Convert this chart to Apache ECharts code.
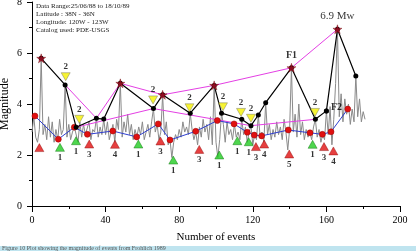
<!DOCTYPE html>
<html><head><meta charset="utf-8">
<script src="https://cdn.jsdelivr.net/npm/echarts@6/dist/echarts.min.js"></script>
<style>html,body{margin:0;padding:0;background:#fff}#c{width:416px;height:251px}</style>
</head><body><div id="c"></div>
<script>
// magnitude of each event (x = event number)
const grayMag = [2.9,3.5,2.7,2.5,3.0,5.79,2.8,3.2,2.6,3.5,2.7,3.3,2.5,3.0,2.6,3.4,2.8,3.0,4.75,2.7,
3.2,2.6,2.9,3.1,3.09,2.5,3.3,2.7,3.2,2.8,2.8,3.3,2.6,3.0,2.9,3.44,2.7,3.1,2.8,3.41,
2.8,3.3,2.6,2.9,3.2,2.5,3.4,3.0,4.81,2.7,3.3,2.9,3.6,2.8,3.2,2.6,3.0,2.7,3.1,2.8,
3.3,2.6,2.9,3.2,2.7,3.3,3.82,2.9,3.2,2.6,2.9,4.36,2.8,3.3,2.4,2.6,1.9,2.5,2.8,2.6,
3.0,2.7,3.3,2.9,3.1,2.8,3.64,3.0,2.6,2.9,2.4,3.1,2.7,3.4,2.9,3.2,2.6,3.5,2.4,4.73,
2.5,1.9,2.6,3.64,3.2,2.5,3.3,2.8,3.0,2.6,3.2,2.7,2.9,2.6,3.40,2.8,3.1,2.5,2.9,3.15,
2.4,2.8,2.6,3.57,2.7,2.9,2.5,4.05,2.8,3.2,2.6,3.0,2.7,3.3,2.8,3.1,2.6,3.4,2.9,2.2,
3.0,5.42,2.9,3.6,2.7,4.0,2.8,3.3,2.6,3.0,2.7,2.9,2.6,3.1,3.40,2.7,3.0,2.5,2.8,2.6,
3.73,2.8,3.9,2.4,3.4,4.8,6.93,3.5,4.4,3.3,4.2,3.6,4.0,3.2,3.8,3.3,5.10,3.5,4.2,3.3,
3.7,3.4];

// peaks (black line)
const peakEvents = [5,18,24,35,39,48,66,71,86,99,103,114,119,123,127,141,154,160,166,176];
const peakMag    = [5.79,4.75,3.09,3.44,3.41,4.81,3.82,4.36,3.64,4.73,3.64,3.40,3.15,3.57,4.05,5.42,3.40,3.73,6.93,5.10];

// stars
const starEvents = [5,48,71,99,141,166];
const starMag    = [5.79,4.81,4.36,4.73,5.42,6.93];
const starText   = ['','','','','F1','6.9 Mw'];

// magenta lines
const upperEvents = [18,35,48,71,99,141,166];
const upperMag    = [4.75,3.44,4.81,4.36,4.73,5.42,6.93];
const lowerEvents = [24,66,119,154];
const lowerMag    = [3.09,3.82,3.15,3.40];

// red circles (blue line)
const avgEvents = [1.6,14.3,23,30.1,43.9,56.9,68.6,75,89,100.7,109.8,117,120.8,124.8,139.3,151.1,157.8,162.5,171.6];
const avgMag    = [3.53,2.62,3.09,2.81,2.94,2.71,3.22,2.59,2.93,3.35,3.22,2.89,2.78,2.75,2.98,2.87,2.81,2.91,3.80];

// yellow inverted triangles (class 2)
const yelEvents = [18.3,25.7,65.8,85.6,103.8,113.6,119,153.8];
const yelMag    = [5.07,3.40,4.16,3.85,3.89,3.67,3.44,3.67];
const yelText   = ['2','2','2','2','2','2','2','2'];

// red triangles
const redEvents = [4,31.1,45.1,69.8,90.9,121.7,126.2,139.8,158.7,163.8];
const redMag    = [2.29,2.43,2.42,2.55,2.22,2.33,2.43,2.04,2.33,2.16];
const redText   = ['','3','4','3','3','3','4','5','3','4'];

// green triangles
const grnEvents = [15.2,23.9,57.8,76.8,101.8,111.6,117.8,152.5];
const grnMag    = [2.30,2.56,2.43,1.80,2.00,2.56,2.52,2.42];
const grnText   = ['1','1','1','1','1','1','1','1'];

const infoLines = ['Data Range:25/06/88 to 18/10/89','Latitude : 38N - 36N','Longitude: 120W - 123W','Catalog used: PDE-USGS'];

const zip = (a,b)=>a.map((v,i)=>[v,b[i]]);
const FONT = '"Liberation Serif", "Times New Roman", serif';
const STAR = 'path://M50,0 L61,35 L98,35 L68,57 L79,91 L50,70 L21,91 L32,57 L2,35 L39,35 Z';

const chart = echarts.init(document.getElementById('c'), null, {renderer:'canvas'});
const option = {
  animation:false,
  backgroundColor:'#fff',
  grid:{left:32, right:16, top:2, bottom:45, containLabel:false, outerBoundsMode:'none'},
  xAxis:{type:'value', min:0, max:200, interval:40,
    name:'Number of events', nameLocation:'middle', nameGap:26, nameMoveOverlap:false,
    nameTextStyle:{fontFamily:FONT, fontSize:11, color:'#000'},
    axisLine:{lineStyle:{color:'#000', width:1}},
    axisTick:{length:6, lineStyle:{color:'#000'}},
    minorTick:{show:true, splitNumber:2, length:3, lineStyle:{color:'#000'}},
    splitLine:{show:false},
    axisLabel:{fontFamily:FONT, fontSize:10, color:'#000', margin:9}},
  yAxis:{type:'value', min:0, max:8, interval:2,
    name:'Magnitude', nameLocation:'middle', nameGap:21, nameMoveOverlap:false,
    nameTextStyle:{fontFamily:FONT, fontSize:12, color:'#000'},
    axisLine:{show:true, lineStyle:{color:'#000', width:1}},
    axisTick:{show:true, length:5, lineStyle:{color:'#000'}},
    minorTick:{show:true, splitNumber:2, length:3, lineStyle:{color:'#000'}},
    splitLine:{show:false},
    axisLabel:{fontFamily:FONT, fontSize:10, color:'#000', margin:10}},
  graphic:[
    ...infoLines.map((t,i)=>({type:'text', left:36, top:3+i*8,
      style:{text:t, font:'7px '+FONT, fill:'#222'}})),
    {type:'rect', left:0, top:246, shape:{width:416, height:5}, style:{fill:'#bfe4ef'}},
    {type:'text', left:2, top:245, style:{text:'Figure 10 Plot showing the magnitude of events from Frohlich 1989', font:'6px '+FONT, fill:'#555'}}
  ],
  series:[
    {type:'line', data:grayMag.map((v,i)=>[i,v]), symbol:'none',
      lineStyle:{color:'#8a8a8a', width:1}, z:1},
    {type:'line', data:zip(avgEvents,avgMag), symbol:'circle', symbolSize:6,
      itemStyle:{color:'#e01010', borderColor:'#900', borderWidth:0.5},
      lineStyle:{color:'#2f3fd0', width:1}, z:3},
    {type:'line', data:zip(upperEvents,upperMag), symbol:'none',
      lineStyle:{color:'#e43fe4', width:1}, z:2},
    {type:'line', data:zip(lowerEvents,lowerMag), symbol:'none',
      lineStyle:{color:'#e43fe4', width:1}, z:2},
    {type:'line', data:zip(peakEvents,peakMag), symbol:'circle', symbolSize:5,
      itemStyle:{color:'#000'}, lineStyle:{color:'#000', width:1.2}, z:4},
    {type:'scatter', data:starEvents.map((e,i)=>({value:[e,starMag[i]],
        label:{show:!!starText[i], formatter:starText[i], position:'top', distance:3,
          fontFamily:FONT, fontSize:starText[i]==='F1'?10:11,
          fontWeight:starText[i]==='F1'?'bold':'normal', color:'#000'}})),
      symbol:STAR, symbolSize:9, itemStyle:{color:'#b0102a', borderColor:'#600', borderWidth:0.5}, z:6},
    {type:'scatter', data:[{value:[160,3.73], label:{show:true, formatter:'F2', position:'right', distance:2,
        fontFamily:FONT, fontSize:10, fontWeight:'bold', color:'#000', offset:[0,-3]}}],
      symbol:'circle', symbolSize:5, itemStyle:{color:'#000'}, z:5},
    {type:'scatter', data:yelEvents.map((e,i)=>({value:[e,yelMag[i]], name:yelText[i]})),
      symbol:'triangle', symbolRotate:180, symbolSize:[9,8],
      itemStyle:{color:'#f5f000', borderColor:'#776', borderWidth:0.6},
      label:{show:true, formatter:'{b}', position:'top', distance:1, fontFamily:FONT, fontSize:9, fontWeight:'bold', color:'#000'}, z:5},
    {type:'scatter', data:redEvents.map((e,i)=>({value:[e,redMag[i]], name:redText[i]})),
      symbol:'triangle', symbolSize:[9,8],
      itemStyle:{color:'#e01010', borderColor:'#800', borderWidth:0.5},
      label:{show:true, formatter:'{b}', position:'bottom', distance:2, fontFamily:FONT, fontSize:9, fontWeight:'bold', color:'#000'}, z:5},
    {type:'scatter', data:grnEvents.map((e,i)=>({value:[e,grnMag[i]], name:grnText[i]})),
      symbol:'triangle', symbolSize:[9,8],
      itemStyle:{color:'#22cc22', borderColor:'#060', borderWidth:0.5},
      label:{show:true, formatter:'{b}', position:'bottom', distance:2, fontFamily:FONT, fontSize:9, fontWeight:'bold', color:'#000'}, z:5}
  ]
};
chart.setOption(option);
</script>
</body></html>
